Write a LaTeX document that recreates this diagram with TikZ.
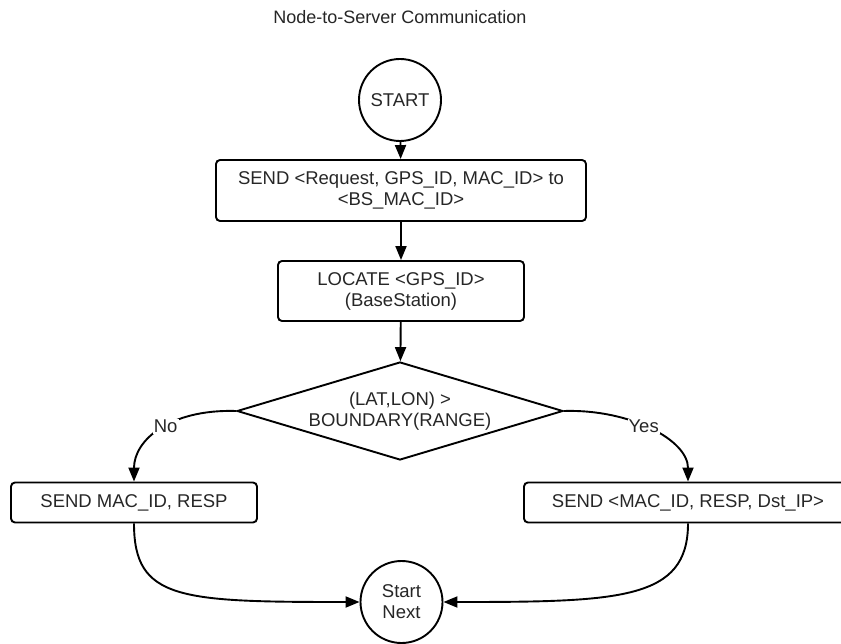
\documentclass[tikz,border=0pt]{standalone}
\usepackage{fontspec}
\setmainfont{Liberation Sans}
\usetikzlibrary{shapes.geometric,arrows.meta}
\tikzset{
	flow/.style={line width=1.9pt, -{Triangle[length=14pt,width=11pt]}},
	procbox/.style={draw, line width=1.9pt, rounded corners=4pt, align=center, inner sep=0pt},
	termcirc/.style={draw, circle, line width=1.9pt, align=center, inner sep=0pt, minimum size=82pt},
	decide/.style={draw, diamond, line width=1.9pt, inner sep=0pt, aspect=3.33, minimum width=326pt, minimum height=98pt},
	edgetag/.style={fill=white, inner sep=1pt}
}
\begin{document}
\begin{tikzpicture}[x=1pt, y=-1pt, every node/.style={text=black!85, font=\fontsize{18.5}{21}\selectfont}]
		\useasboundingbox (0,0) rectangle (841,644);
		\clip (0,0) rectangle (841,644);
		\node (title) at (400,17) {\fontsize{18}{21}\selectfont Node-to-Server Communication};
		\node[termcirc] (start) at (400,100) {START};
		\node[procbox, minimum width=370pt, minimum height=61pt] (send) at (401,190.5)
			{SEND <Request, GPS\_ID, MAC\_ID> to\\<BS\_MAC\_ID>};
		\node[procbox, minimum width=246pt, minimum height=60pt] (locate) at (401,291)
			{LOCATE <GPS\_ID>\\(BaseStation)};
		\node[decide] (check) at (400,411) {};
		\node[align=center] (checktext) at (check.center) {(LAT,LON) >\\BOUNDARY(RANGE)};
		\node[procbox, minimum width=246pt, minimum height=40pt] (resp) at (134,502.5)
			{SEND MAC\_ID, RESP};
		\node[procbox, minimum width=328pt, minimum height=40pt] (fwd) at (688,502.5)
			{SEND <MAC\_ID, RESP, Dst\_IP>};
		\node[termcirc] (next) at (401.5,602) {Start\\Next};
		\draw[flow] (start) -- (send);
		\draw[flow] (send) -- (locate);
		\draw[flow] (locate) -- (check);
		\draw[flow] (check.west) .. controls (170,409) and (134,440) .. (resp.north)
			node[pos=0.45, edgetag]{No};
		\draw[flow] (check.east) .. controls (630,409) and (688,440) .. (fwd.north)
			node[pos=0.45, edgetag]{Yes};
		\draw[flow] (resp.south) .. controls (134,600) and (180,602) .. (next.west);
		\draw[flow] (fwd.south) .. controls (688,600) and (620,602) .. (next.east);
	\end{tikzpicture}
\end{document}
